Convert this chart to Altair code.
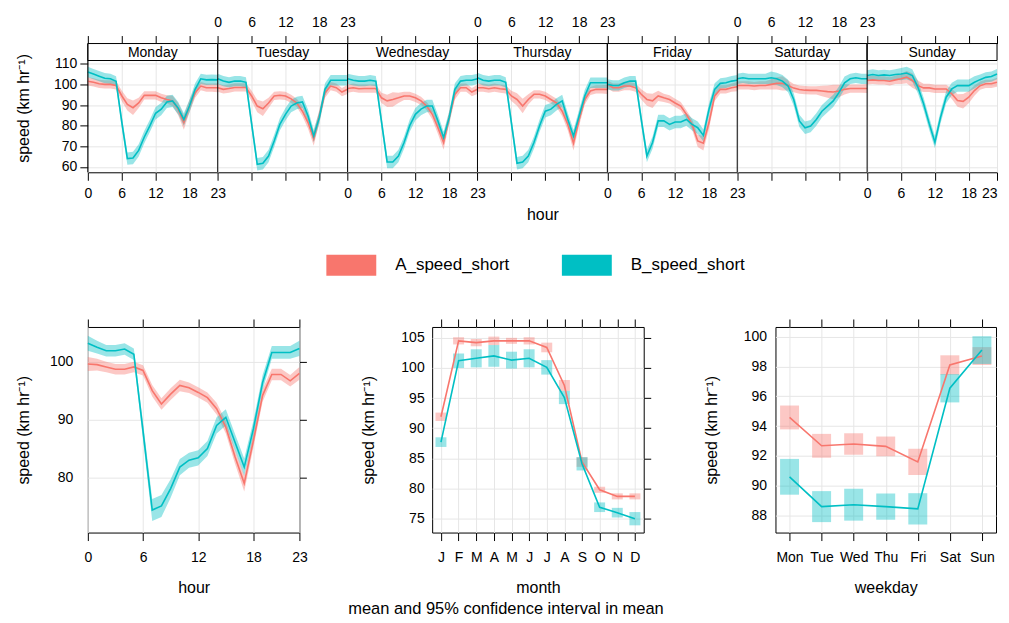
import altair as alt
import pandas as pd

DAYS = ["Monday", "Tuesday", "Wednesday", "Thursday", "Friday", "Saturday", "Sunday"]
SERIES = ["A_speed_short", "B_speed_short"]
COLORS = ["#F8766D", "#00BFC4"]
HOURS = list(range(24))

# ---- top panel: hour x weekday means (km/h) ----
a_monday = [101.5, 101, 100.3, 100, 100, 99.5, 94.5, 90.3, 88.7, 91, 94.7, 94.7, 94.7, 93.5, 92.7, 92, 88, 81.5, 89.5, 96, 99.2, 98.4, 98.4, 98.4]
b_monday = [106, 105, 104, 103, 102.7, 101.5, 82, 64, 64.3, 68, 74.5, 80, 86, 88, 91.5, 92, 88.5, 83, 89.5, 97.6, 102.7, 102.2, 102.3, 102.2]
a_tuesday = [98.4, 97.6, 98, 98.5, 98.5, 98.5, 94.4, 89.5, 88.2, 91, 94.4, 94.7, 94.4, 93, 91, 87, 81.5, 73.7, 84.7, 96, 99.2, 98.4, 96.3, 97.6]
b_tuesday = [102.7, 101.6, 101, 101.6, 101.6, 101, 81, 61.3, 61.8, 65.3, 72.6, 80.6, 85.5, 89.5, 91, 91.5, 84.7, 75, 84, 97.6, 102, 102, 102, 102]
a_wednesday = [98, 98.4, 97.9, 98, 98, 98, 93.5, 92, 92.7, 93.5, 94.4, 94.4, 93.5, 92, 89.5, 85.5, 79, 71.8, 84, 95.2, 98.4, 98.4, 96.3, 97.6]
b_wednesday = [102.7, 102, 101.6, 101.6, 102, 101.6, 82, 62.4, 62.4, 65.3, 71.8, 80, 85.5, 88, 89.5, 89.5, 82.3, 74.2, 84, 97.6, 101.6, 102, 102, 102.7]
a_thursday = [98.4, 98.4, 97.9, 98.4, 97.9, 97.6, 94.4, 92.7, 89.5, 92.7, 95.2, 95.2, 94.4, 92.7, 91, 87, 80.6, 71.5, 83, 92.7, 96.8, 97.6, 97.6, 97.6]
b_thursday = [103.2, 102, 101.6, 102, 102, 101, 81.5, 61.8, 62.4, 65.3, 71.8, 80, 87, 88, 90.3, 92, 83, 75, 84.7, 94.4, 100.8, 100.8, 100.8, 100.8]
a_friday = [100, 98.4, 98.4, 99.2, 99.2, 98.4, 95.2, 92.7, 92, 94.4, 93.5, 92.7, 91, 89.5, 85.5, 80.6, 72.6, 71.5, 81.5, 94.4, 97.6, 97.6, 98.4, 98.9]
b_friday = [100, 99.5, 99.5, 100.8, 101.6, 101.6, 83, 65.3, 71.8, 82.3, 82.3, 80.6, 81.8, 81.8, 83, 80.6, 79, 75.3, 87.9, 97.6, 100.5, 100.8, 101.6, 102]
a_saturday = [99.5, 99.5, 99.5, 99.2, 99.5, 99.5, 100, 100.5, 100.5, 99.5, 98.2, 97.5, 97.2, 97.1, 97.1, 96.8, 96.5, 96.3, 96.8, 97.6, 98, 98, 98, 98]
b_saturday = [102.7, 103.2, 102.7, 102.7, 102.7, 102.7, 103.2, 102.7, 101.6, 99.2, 92.7, 82.3, 79, 79.8, 83, 87, 89.5, 92, 96, 100.8, 102.7, 103.2, 102.7, 102.7]
a_sunday = [101.9, 102.2, 101.9, 101.9, 101.5, 102.2, 102.7, 103.5, 101.9, 99.4, 98.3, 98.3, 97.8, 97.8, 97.8, 95.4, 92.2, 91.8, 93.8, 97, 99.4, 100.3, 100.3, 101]
b_sunday = [104.3, 104.8, 104.3, 104.6, 104.3, 104.8, 105, 105.5, 104.3, 98.6, 90.6, 80.9, 72, 84, 93.8, 97.8, 99.4, 99.4, 99.4, 101, 102.3, 103.4, 103.8, 105]
# half-width of the 95% CI by hour (top panel)
a_ci_top = [2, 2, 2, 2, 2, 2, 2.5, 3, 3.5, 2.5, 2, 2, 2, 2, 2, 2.5, 3, 3.5, 3, 2.5, 2, 2, 2, 2.2]
b_ci_top = [2.5, 2.5, 2.5, 2.5, 2.5, 2.5, 3, 3, 3, 3, 3, 3, 3, 3, 3, 3, 3, 3, 3, 3, 2.5, 2.5, 2.5, 2.5]

A_BY_DAY = [a_monday, a_tuesday, a_wednesday, a_thursday, a_friday, a_saturday, a_sunday]
B_BY_DAY = [b_monday, b_tuesday, b_wednesday, b_thursday, b_friday, b_saturday, b_sunday]

# ---- bottom-left: hour of day ----
hour_a = [99.6, 99.5, 99.1, 98.7, 98.7, 99.1, 98.5, 95, 92.7, 94.4, 95.9, 95.5, 94.7, 93.8, 91.9, 88.7, 83.6, 79, 86.4, 94.2, 97.8, 97.8, 96.7, 98]
hour_b = [103.2, 102.5, 101.9, 101.9, 102.2, 101.3, 88, 74.4, 75.1, 78.1, 81.8, 83, 83.4, 85, 89, 90.4, 86.1, 81.8, 88.4, 96.4, 101.6, 101.6, 101.6, 102.3]
hour_a_ci = [1.2, 1, 0.9, 0.9, 0.9, 0.9, 0.9, 1, 1, 1, 1, 0.9, 0.9, 0.9, 1, 1.1, 1.2, 1.4, 1.2, 1.1, 1, 1, 1, 1.1]
hour_b_ci = [1.3, 1.1, 1, 1, 1, 1, 1.5, 1.9, 1.9, 1.6, 1.4, 1.3, 1.3, 1.3, 1.4, 1.4, 1.4, 1.5, 1.4, 1.3, 1.1, 1.1, 1.1, 1.3]

# ---- bottom-middle: month ----
MONTHS = ["Jan", "Feb", "Mar", "Apr", "May", "Jun", "Jul", "Aug", "Sep", "Oct", "Nov", "Dec"]
month_a = [91.9, 104.5, 104.2, 104.5, 104.5, 104.5, 103.4, 97.1, 84.4, 79.8, 78.7, 78.7]
month_a_ci = [0.7, 0.6, 0.6, 0.7, 0.5, 0.6, 0.8, 0.9, 0.8, 0.5, 0.5, 0.5]
month_b = [87.7, 101.2, 101.6, 102, 101.3, 101.6, 100.1, 95.1, 84.1, 76.9, 76, 75]
month_b_ci = [0.8, 1.2, 1.5, 1.8, 1.4, 1.5, 1.2, 1.1, 1.1, 0.8, 0.8, 1.1]

# ---- bottom-right: weekday ----
WEEKDAYS = ["Mon", "Tue", "Wed", "Thu", "Fri", "Sat", "Sun"]
wday_a = [94.58, 92.68, 92.8, 92.64, 91.6, 98.1, 98.7]
wday_a_ci = [0.8, 0.8, 0.72, 0.66, 0.88, 0.65, 0.6]
wday_b = [90.6, 88.6, 88.73, 88.6, 88.45, 96.54, 99.1]
wday_b_ci = [1.2, 1.04, 1.07, 0.88, 1.05, 0.95, 0.93]

FONT = "Liberation Sans"
GRID = "#e6e6e6"

# ------------------------------------------------------------------ top chart
rows = []
for d, day in enumerate(DAYS):
    for h in HOURS:
        for s, vals, ci in ((SERIES[0], A_BY_DAY[d], a_ci_top), (SERIES[1], B_BY_DAY[d], b_ci_top)):
            rows.append({"day": day, "hour": h, "pos": 23 * d + h, "series": s,
                         "mean": vals[h], "lo": vals[h] - ci[h], "hi": vals[h] + ci[h]})
top_df = pd.DataFrame(rows)

strip_df = pd.DataFrame({
    "day": DAYS,
    "start": [23 * i for i in range(len(DAYS))],
    "end": [23 * (i + 1) for i in range(len(DAYS))],
    "mid": [23 * i + 11.5 for i in range(len(DAYS))],
})

TOP_W, TOP_H, STRIP_H = 911, 129, 17
hour_ticks = [0, 6, 12, 18, 23]
tick_vals = sorted({23 * d + h for d in range(7) for h in hour_ticks})
X_END = 23 * len(DAYS)


def label_expr(day_set):
    m = {}
    for d in day_set:
        for h in hour_ticks:
            m[23 * d + h] = str(h)
    parts = [f"datum.value == {p} ? '{lab}'" for p, lab in sorted(m.items())]
    return " : ".join(parts) + " : ''"


x_top = alt.Scale(domain=[0, X_END], nice=False, zero=False)
y_top = alt.Scale(domain=[57.4, 119.8], nice=False, zero=False)
color_scale = alt.Scale(domain=SERIES, range=COLORS)

band_top = alt.Chart(top_df).mark_area(opacity=0.4).encode(
    x=alt.X("pos:Q", scale=x_top, axis=alt.Axis(
        orient="bottom", values=tick_vals, labelExpr=label_expr([0, 2, 4, 6]),
        labelAlign={"condition": {"test": f"datum.value == {X_END}", "value": "right"}, "value": "center"},
        tickSize=8, labelPadding=6, labelFlush=False, labelOverlap=False,
        grid=True, gridColor=GRID, domain=False, title="hour", titlePadding=6)),
    y=alt.Y("lo:Q", scale=y_top, axis=alt.Axis(
        orient="left", values=[60, 70, 80, 90, 100, 110], tickSize=8, labelPadding=3,
        grid=True, gridColor=GRID, domain=False, title="speed (km hr⁻¹)",
        minExtent=40, maxExtent=40, titlePadding=16)),
    y2="hi:Q",
    color=alt.Color("series:N", scale=color_scale, legend=alt.Legend(
        orient="none", legendX=239, legendY=197, direction="horizontal", title=None,
        symbolType="M-1,-0.42L1,-0.42L1,0.42L-1,0.42Z", symbolSize=2500,
        symbolOpacity=1, symbolStrokeWidth=0, labelFontSize=17, labelOffset=19,
        columnPadding=52, padding=0, labelColor="black", labelFont=FONT)),
    detail="day:N",
)

line_top = alt.Chart(top_df).mark_line(strokeWidth=1.6).encode(
    x=alt.X("pos:Q", scale=x_top, axis=alt.Axis(
        orient="top", values=tick_vals, labelExpr=label_expr([1, 3, 5]),
        tickSize=8, labelPadding=6, labelFlush=False, labelOverlap=False,
        grid=False, domain=False, title=None, minExtent=0)),
    y=alt.Y("mean:Q", scale=y_top, axis=None),
    color=alt.Color("series:N", scale=color_scale, legend=None),
    detail="day:N",
)

strip_rect = alt.Chart(strip_df).mark_rect(fill="white", stroke="black", strokeWidth=1).encode(
    x=alt.X("start:Q", scale=x_top, axis=None),
    x2="end:Q",
    y=alt.value(0),
    y2=alt.value(STRIP_H),
)
strip_text = alt.Chart(strip_df).mark_text(fontSize=14, color="black", font=FONT, baseline="middle").encode(
    x=alt.X("mid:Q", scale=x_top, axis=None),
    y=alt.value(STRIP_H / 2 + 0.5),
    text="day:N",
)
panel_rules = alt.Chart(strip_df).mark_rule(color="black", strokeWidth=1).encode(
    x=alt.X("start:Q", scale=x_top, axis=None),
    y=alt.value(0),
    y2=alt.value(TOP_H),
)

top = alt.layer(band_top, line_top, strip_rect, strip_text, panel_rules).resolve_axis(
    x="independent", y="independent").properties(width=TOP_W, height=TOP_H)


# --------------------------------------------------------------- bottom charts
def bottom_chart(df, x_enc_band, x_enc_line, y_dom, y_vals, label_pad, width, kind,
                 bar_size=11, right_ticks=True):
    y_left = alt.Axis(orient="left", values=y_vals, ticks=False, labelPadding=label_pad,
                      grid=True, gridColor=GRID, domain=False, title="speed (km hr⁻¹)",
                      minExtent=40, maxExtent=40, titlePadding=16)
    if right_ticks:
        y_right = alt.Axis(orient="right", values=y_vals, tickSize=7, labels=False,
                           grid=False, domain=False, title=None, minExtent=0, maxExtent=7)
    else:
        y_right = None
    ys = alt.Scale(domain=y_dom, nice=False, zero=False)
    if kind == "area":
        base = alt.Chart(df).mark_area(opacity=0.4)
    else:
        base = alt.Chart(df).mark_bar(opacity=0.4, size=bar_size)
    ci = base.encode(
        x=x_enc_band,
        y=alt.Y("lo:Q", scale=ys, axis=y_left),
        y2="hi:Q",
        color=alt.Color("series:N", scale=color_scale, legend=None),
    )
    ln = alt.Chart(df).mark_line(strokeWidth=1.6).encode(
        x=x_enc_line,
        y=alt.Y("mean:Q", scale=ys, axis=y_right),
        color=alt.Color("series:N", scale=color_scale, legend=None),
    )
    return alt.layer(ci, ln).resolve_axis(x="independent", y="independent").properties(
        width=width, height=206)


def long_df(key, cats, a, a_ci, b, b_ci):
    rows = []
    for i, c in enumerate(cats):
        rows.append({key: c, "series": SERIES[0], "mean": a[i], "lo": a[i] - a_ci[i], "hi": a[i] + a_ci[i]})
        rows.append({key: c, "series": SERIES[1], "mean": b[i], "lo": b[i] - b_ci[i], "hi": b[i] + b_ci[i]})
    return pd.DataFrame(rows)


hour_df = long_df("hour", HOURS, hour_a, hour_a_ci, hour_b, hour_b_ci)
month_df = long_df("month", MONTHS, month_a, month_a_ci, month_b, month_b_ci)
wday_df = long_df("weekday", WEEKDAYS, wday_a, wday_a_ci, wday_b, wday_b_ci)

XL_PAD, XT_PAD = 10, 15
hx = alt.Scale(domain=[0, 23], nice=False, zero=False)
hour_chart = bottom_chart(
    hour_df,
    alt.X("hour:Q", scale=hx, axis=alt.Axis(orient="bottom", values=hour_ticks, tickSize=8,
          labelPadding=XL_PAD, labelFlush=False, grid=True, gridColor=GRID, domain=False,
          title="hour", titlePadding=XT_PAD)),
    alt.X("hour:Q", scale=hx, axis=alt.Axis(orient="top", values=hour_ticks, tickSize=8,
          labels=False, grid=False, domain=False, title=None, minExtent=0)),
    [70.5, 106], [80, 90, 100], 15, 212, "area")

mx = alt.Scale(type="point", domain=MONTHS, padding=0.5)
month_chart = bottom_chart(
    month_df,
    alt.X("month:N", scale=mx, axis=alt.Axis(orient="bottom", tickSize=8, labelAngle=0,
          labelExpr="substring(datum.label, 0, 1)", labelPadding=XL_PAD, grid=True,
          gridColor=GRID, domain=False, title="month", titlePadding=XT_PAD)),
    alt.X("month:N", scale=mx, axis=alt.Axis(orient="top", tickSize=8, labels=False,
          grid=False, domain=False, title=None, minExtent=0)),
    [72.7, 106.8], [75, 80, 85, 90, 95, 100, 105], 8, 212, "bar", 11)

wx = alt.Scale(type="point", domain=WEEKDAYS, padding=0.44)
wday_chart = bottom_chart(
    wday_df,
    alt.X("weekday:N", scale=wx, axis=alt.Axis(orient="bottom", tickSize=8, labelAngle=0,
          labelPadding=XL_PAD, grid=True, gridColor=GRID, domain=False, title="weekday",
          titlePadding=XT_PAD)),
    alt.X("weekday:N", scale=wx, axis=alt.Axis(orient="top", tickSize=8, labels=False,
          grid=False, domain=False, title=None, minExtent=0)),
    [86.86, 100.65], [88, 90, 92, 94, 96, 98, 100], 9, 221, "bar", 19, right_ticks=False)

bottom = alt.hconcat(hour_chart, month_chart, wday_chart, spacing=51).properties(
    title=alt.TitleParams("mean and 95% confidence interval in mean", orient="bottom",
                          anchor="middle", fontSize=16.5, fontWeight="normal",
                          font=FONT, color="black", offset=5))

chart = alt.vconcat(top, bottom, spacing=41).resolve_scale(color="independent").properties(
    padding={"left": 7, "top": 6, "right": 0, "bottom": 0}
).configure(font=FONT).configure_view(stroke="black", strokeWidth=1).configure_axis(
    labelColor="black", titleColor="black", tickColor="black", labelFontSize=14,
    titleFontSize=16, titleFontWeight="normal", labelFont=FONT, titleFont=FONT
).configure_legend(labelFont=FONT)

chart.save("out.html", embed_options={"renderer": "svg", "actions": False})
